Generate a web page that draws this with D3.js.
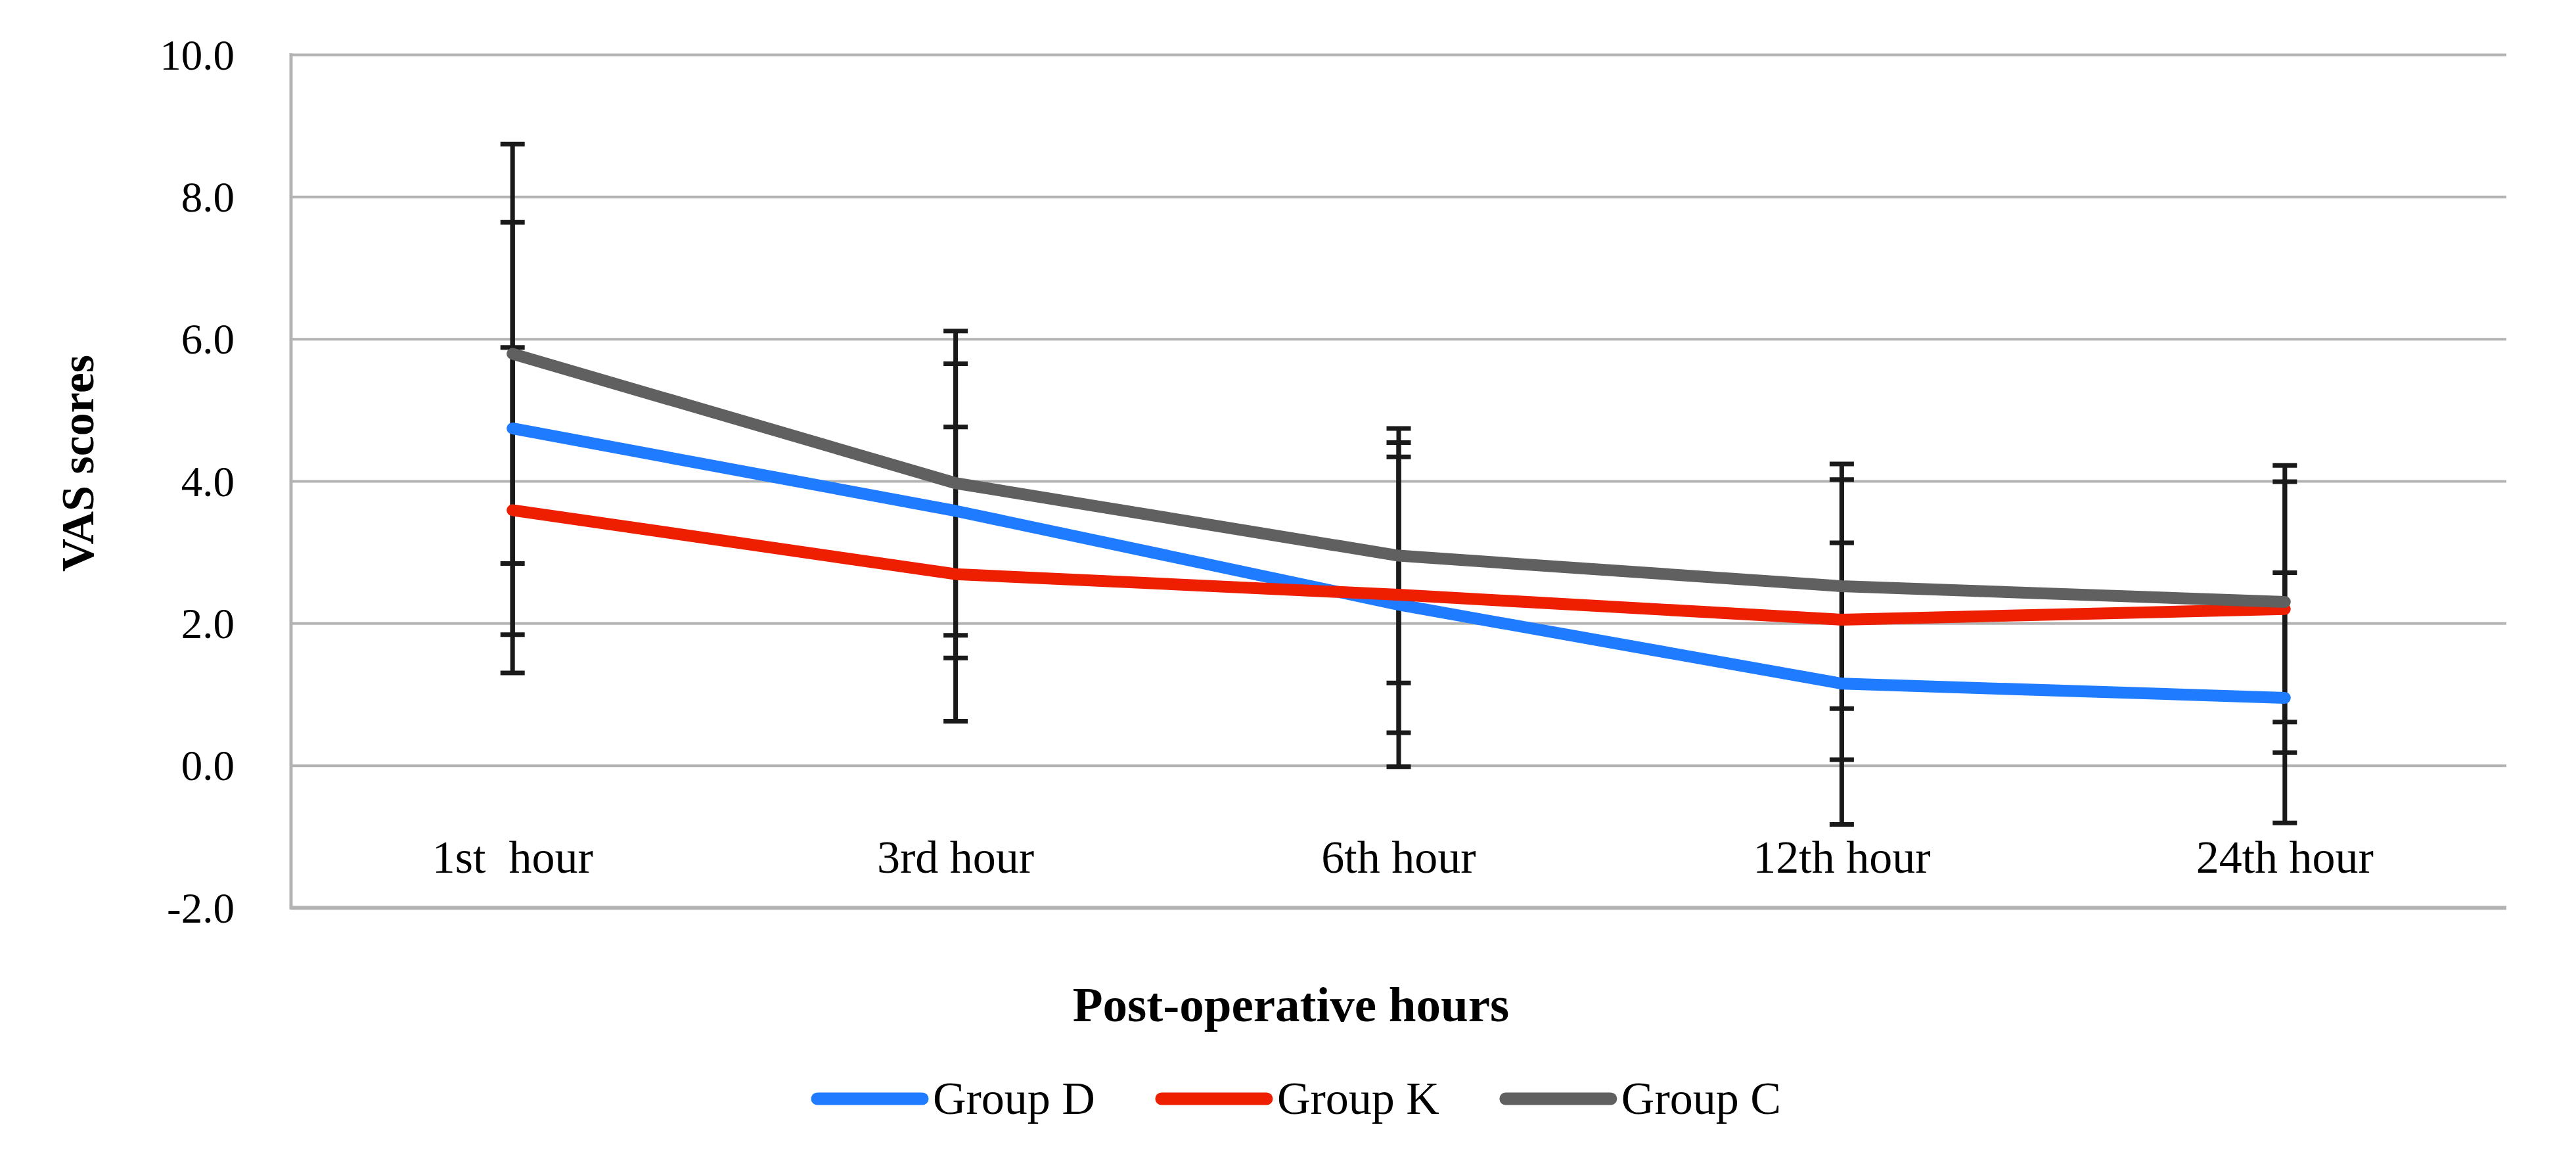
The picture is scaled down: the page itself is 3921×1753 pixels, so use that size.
<!DOCTYPE html>
<html>
  <head>
    <title>VAS scores</title>
    <script src="https://d3js.org/d3.v7.min.js"></script>
    <style>
      body {
        margin: 0;
        background-color: white;
      }

      svg text {
        font-family: "Liberation Serif", serif;
        fill: black;
      }
    </style>
  </head>
  <body>
    <script>
      // data
      const hours = ['1st  hour', '3rd hour', '6th hour', '12th hour', '24th hour'];
      const groups = ['Group D', 'Group K', 'Group C'];
      const groupD = [4.74, 3.58, 2.26, 1.15, 0.95];
      const groupK = [3.59, 2.69, 2.40, 2.05, 2.20];
      const groupC = [5.79, 3.97, 2.95, 2.52, 2.30];
      const sdD = [2.90, 2.07, 2.28, 1.98, 1.76];
      const sdK = [2.29, 2.07, 1.94, 1.97, 2.02];
      const sdC = [2.95, 2.14, 1.79, 1.72, 1.69];
      const yTicks = [-2, 0, 2, 4, 6, 8, 10];
      const colors = ['#1f7bff', '#ee1e00', '#606060'];

      const w = 3921;
      const h = 1753;
      const plotLeft = 443;
      const plotRight = 3815;
      const plotTop = 83;
      const plotBottom = 1381;

      const series = groups.map((g, i) => ({
        name: g,
        color: colors[i],
        values: [groupD, groupK, groupC][i],
        sd: [sdD, sdK, sdC][i]
      }));

      const xScale = d3.scaleBand()
                       .domain(hours)
                       .range([plotLeft, plotRight]);

      const yScale = d3.scaleLinear()
                       .domain([-2, 10])
                       .range([plotBottom, plotTop]);

      const cx = d => xScale(d) + xScale.bandwidth() / 2;

      const svg = d3.select('body')
                    .append('svg')
                    .attr('width', w)
                    .attr('height', h);

      svg.append('rect')
         .attr('width', w)
         .attr('height', h)
         .attr('fill', 'white');

      // gridlines
      const grid = svg.append('g')
                      .attr('transform', `translate(${plotLeft}, 0)`)
                      .call(d3.axisLeft(yScale)
                              .tickValues(yTicks)
                              .tickSize(-(plotRight - plotLeft))
                              .tickFormat(''));
      grid.select('.domain').remove();
      grid.selectAll('line')
          .attr('stroke', '#b3b3b3')
          .attr('stroke-width', d => d === -2 ? 6 : 4);

      // left axis line
      svg.append('line')
         .attr('x1', plotLeft).attr('x2', plotLeft)
         .attr('y1', plotTop - 2).attr('y2', plotBottom + 3)
         .attr('stroke', '#b3b3b3')
         .attr('stroke-width', 5);

      // y tick labels
      const yAxis = svg.append('g')
                       .attr('transform', `translate(357, 0)`)
                       .call(d3.axisLeft(yScale)
                               .tickValues(yTicks)
                               .tickSize(0)
                               .tickPadding(0)
                               .tickFormat(d => d.toFixed(1)));
      yAxis.select('.domain').remove();
      yAxis.selectAll('text')
           .attr('dy', 22)
           .style('font-size', '65px')
           .style('font-family', '"Liberation Serif", serif');

      // x labels
      svg.append('g')
         .selectAll('text')
         .data(hours)
         .enter()
         .append('text')
         .attr('x', d => cx(d))
         .attr('y', 1328)
         .attr('text-anchor', 'middle')
         .style('font-size', '70px')
         .style('white-space', 'pre')
         .text(d => d);

      // error bars
      const capW = 37;
      series.forEach(s => {
        const g = svg.append('g')
                     .attr('stroke', '#1a1a1a')
                     .attr('stroke-width', 7);
        hours.forEach((hr, i) => {
          const x = cx(hr);
          const hi = yScale(s.values[i] + s.sd[i]);
          const lo = yScale(s.values[i] - s.sd[i]);
          g.append('line').attr('x1', x).attr('x2', x).attr('y1', hi).attr('y2', lo);
          g.append('line').attr('x1', x - capW / 2).attr('x2', x + capW / 2).attr('y1', hi).attr('y2', hi);
          g.append('line').attr('x1', x - capW / 2).attr('x2', x + capW / 2).attr('y1', lo).attr('y2', lo);
        });
      });

      // lines
      const line = d3.line()
                     .x((d, i) => cx(hours[i]))
                     .y(d => yScale(d));

      series.forEach(s => {
        svg.append('path')
           .datum(s.values)
           .attr('d', line)
           .attr('fill', 'none')
           .attr('stroke', s.color)
           .attr('stroke-width', 18)
           .attr('stroke-linecap', 'round')
           .attr('stroke-linejoin', 'round');
      });

      // axis titles
      svg.append('text')
         .attr('transform', 'translate(142, 705) rotate(-90)')
         .attr('text-anchor', 'middle')
         .style('font-size', '70px')
         .style('font-weight', 'bold')
         .text('VAS scores');

      svg.append('text')
         .attr('x', 1965)
         .attr('y', 1554)
         .attr('text-anchor', 'middle')
         .style('font-size', '75px')
         .style('font-weight', 'bold')
         .text('Post-operative hours');

      // legend
      const legend = svg.append('g');
      let lx = 1234;
      series.forEach(s => {
        legend.append('line')
              .attr('x1', lx + 10).attr('x2', lx + 170)
              .attr('y1', 1672).attr('y2', 1672)
              .attr('stroke', s.color)
              .attr('stroke-width', 19)
              .attr('stroke-linecap', 'round');
        const t = legend.append('text')
                        .attr('x', lx + 186)
                        .attr('y', 1695)
                        .style('font-size', '70px')
                        .text(s.name);
        lx += 186 + t.node().getComputedTextLength() + 91;
      });
    </script>
  </body>
</html>
